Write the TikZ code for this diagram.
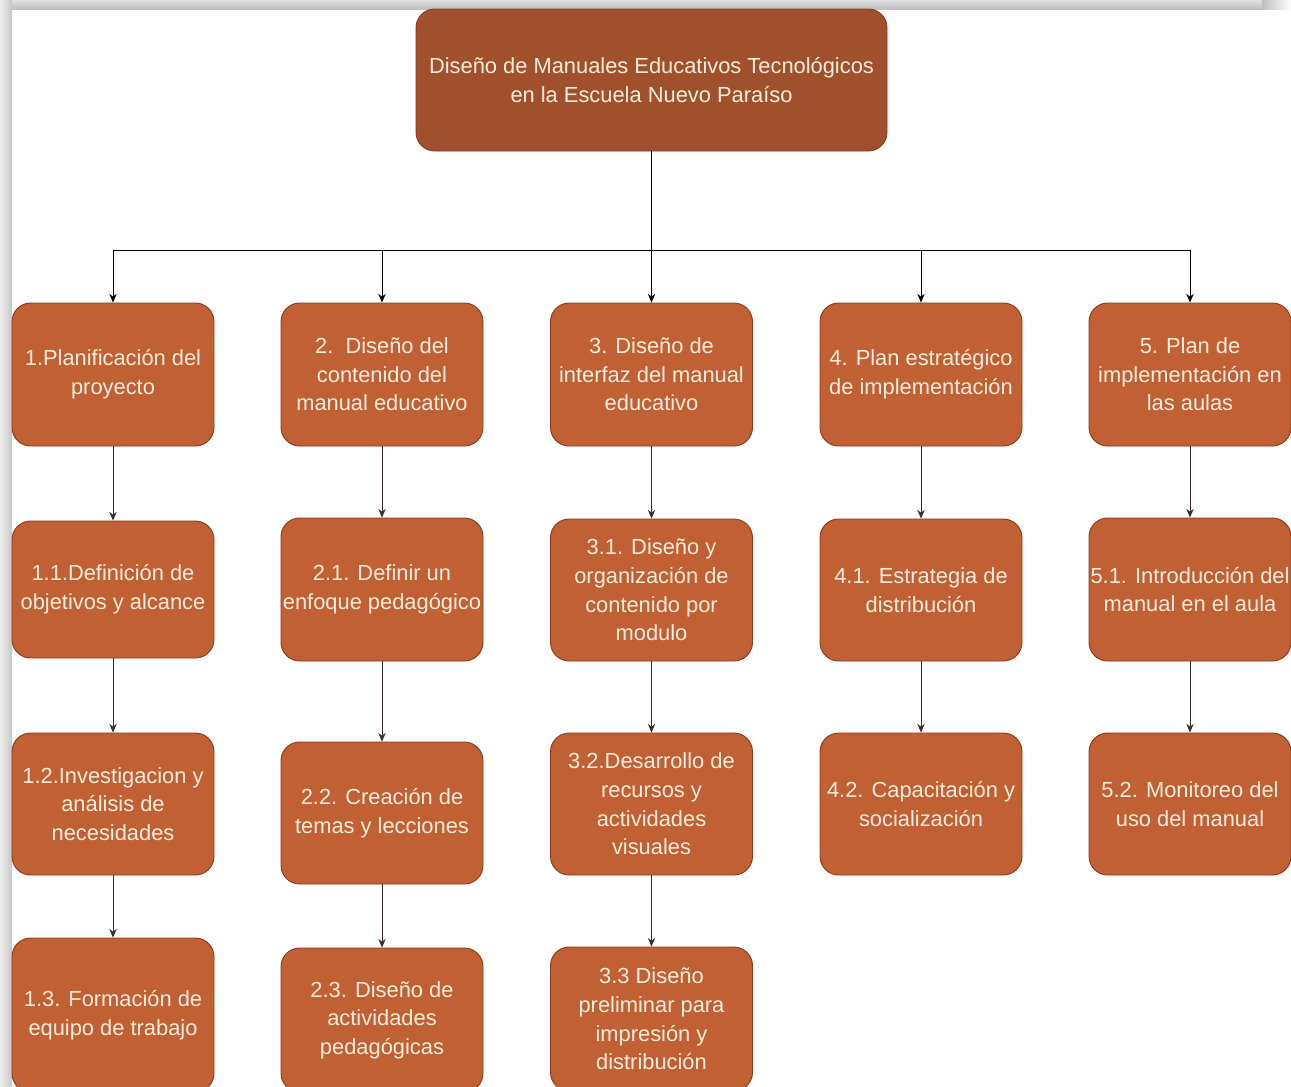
\documentclass[tikz,border=0pt]{standalone}
\usepackage{fontspec}
\setmainfont{Liberation Sans}
\usetikzlibrary{arrows.meta}
\definecolor{topfill}{RGB}{160,80,44}
\definecolor{boxfill}{RGB}{192,96,52}
\definecolor{boxdraw}{RGB}{140,60,28}
\definecolor{txt}{RGB}{252,238,220}
\definecolor{conn}{RGB}{60,45,40}
\begin{document}
\begin{tikzpicture}[x=0.75pt,y=-0.75pt,
  wbs/.style={draw=boxdraw, line width=0.7pt, fill=boxfill, rounded corners=14pt,
    text=txt, font=\fontsize{16.4}{21.5}\selectfont, align=center, inner sep=0pt,
    minimum width=151.5pt},
  topbox/.style={wbs, fill=topfill, minimum width=353.25pt, minimum height=106.5pt},
  arr/.style={draw=black, line width=0.7pt, -{Stealth[length=6.5pt,width=5.5pt]}},
  carr/.style={draw=conn, line width=0.7pt, -{Stealth[length=6.5pt,width=5.5pt]}}
]
\useasboundingbox (0,0) rectangle (1291,1086);
\fill[white] (0,0) rectangle (1291,1086);
% shadow strips
\shade[top color=gray!25, bottom color=gray!50] (0,0) rectangle (1262,9);
\shade[left color=gray!50, right color=white] (1262,0) rectangle (1291,9);
\shade[left color=gray!12, right color=gray!45] (0,0) rectangle (12,1086);

% top node
\node[topbox] (top) at (651.5,80) {Diseño de Manuales Educativos Tecnológicos\\en la Escuela Nuevo Paraíso};
\coordinate (bus) at (651.5,250);

% row 1
\node[wbs, minimum height=107.25pt] (n1) at (113,374.5) {1.Planificación del\\proyecto};
\node[wbs, minimum height=107.25pt] (n2) at (382,374.5) {2.\ \ Diseño del\\contenido del\\manual educativo};
\node[wbs, minimum height=107.25pt] (n3) at (651.5,374.5) {3. Diseño de\\interfaz del manual\\educativo};
\node[wbs, minimum height=107.25pt] (n4) at (921,374.5) {4. Plan estratégico\\de implementación};
\node[wbs, minimum height=107.25pt] (n5) at (1190,374.5) {5. Plan de\\implementación en\\las aulas};

% column 1
\node[wbs, minimum height=102.75pt] (n11) at (113,589.5) {1.1.Definición de\\objetivos y alcance};
\node[wbs, minimum height=106.5pt] (n12) at (113,804) {1.2.Investigacion y\\análisis de\\necesidades};
\node[wbs, minimum height=115.5pt] (n13) at (113,1015) {1.3. Formación de\\equipo de trabajo};

% column 2
\node[wbs, minimum height=107.25pt] (n21) at (382,589.5) {2.1. Definir un\\enfoque pedagógico};
\node[wbs, minimum height=106.5pt] (n22) at (382,813) {2.2. Creación de\\temas y lecciones};
\node[wbs, minimum height=108pt] (n23) at (382,1020) {2.3. Diseño de\\actividades\\pedagógicas};

% column 3
\node[wbs, minimum height=106.5pt] (n31) at (651.5,590) {3.1. Diseño y\\organización de\\contenido por\\modulo};
\node[wbs, minimum height=106.5pt] (n32) at (651.5,804) {3.2.Desarrollo de\\recursos y\\actividades\\visuales};
\node[wbs, minimum height=108pt] (n33) at (651.5,1019) {3.3 Diseño\\preliminar para\\impresión y\\distribución};

% column 4
\node[wbs, minimum height=106.5pt] (n41) at (921,590) {4.1. Estrategia de\\distribución};
\node[wbs, minimum height=106.5pt] (n42) at (921,804) {4.2. Capacitación y\\socialización};

% column 5
\node[wbs, minimum height=107.25pt] (n51) at (1190,589.5) {5.1. Introducción del\\manual en el aula};
\node[wbs, minimum height=106.5pt] (n52) at (1190,804) {5.2. Monitoreo del\\uso del manual};

% top connectors
\draw[line width=0.7pt] (top.south) -- (bus);
\draw[arr] (bus) -| (n1.north);
\draw[arr] (bus) -| (n2.north);
\draw[arr] (bus) -- (n3.north);
\draw[arr] (bus) -| (n4.north);
\draw[arr] (bus) -| (n5.north);

% column connectors
\draw[carr] (n1.south) -- (n11.north);
\draw[carr] (n11.south) -- (n12.north);
\draw[carr] (n12.south) -- (n13.north);
\draw[carr] (n2.south) -- (n21.north);
\draw[carr] (n21.south) -- (n22.north);
\draw[carr] (n22.south) -- (n23.north);
\draw[carr] (n3.south) -- (n31.north);
\draw[carr] (n31.south) -- (n32.north);
\draw[carr] (n32.south) -- (n33.north);
\draw[carr] (n4.south) -- (n41.north);
\draw[carr] (n41.south) -- (n42.north);
\draw[carr] (n5.south) -- (n51.north);
\draw[carr] (n51.south) -- (n52.north);
\end{tikzpicture}
\end{document}
